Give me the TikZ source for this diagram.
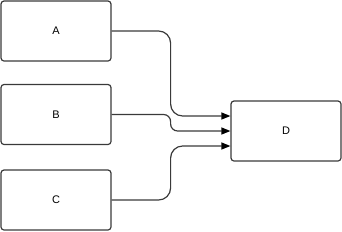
\documentclass[tikz,border=0pt]{standalone}
\usepackage{fontspec}
\setmainfont{Liberation Sans}
\usetikzlibrary{arrows.meta}
\definecolor{edge}{HTML}{3a3a3a}
\begin{document}
\begin{tikzpicture}[x=1pt,y=-1pt,
  blk/.style={draw=edge,line width=1.2pt,rounded corners=3pt,minimum width=110pt,minimum height=60pt,inner sep=0pt,font=\fontsize{11}{13}\selectfont},
  conn/.style={draw=edge,line width=1.2pt,-{Triangle[length=9pt,width=7pt,fill=black,color=black]}}]
\useasboundingbox (0,0) rectangle (342,231);
\node[blk] (A) at (56,31) {A};
\node[blk] (B) at (56,114.5) {B};
\node[blk] (C) at (56,200) {C};
\node[blk] (D) at (286,131) {D};
\draw[conn,rounded corners=12pt] (A.east) -- ++(59,0) |- ([yshift=15pt]D.west);
\draw[conn,rounded corners=7pt] (B.east) -- ++(59,0) |- (D.west);
\draw[conn,rounded corners=12pt] (C.east) -- ++(59,0) |- ([yshift=-15pt]D.west);
\end{tikzpicture}
\end{document}
